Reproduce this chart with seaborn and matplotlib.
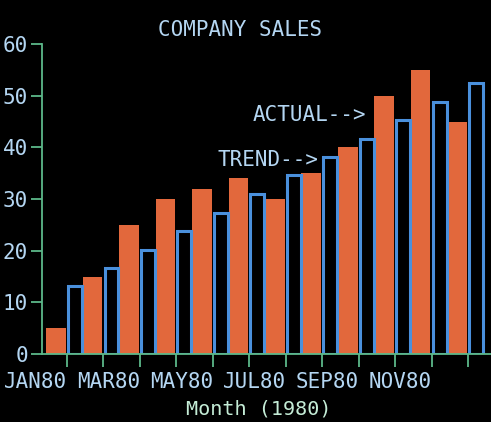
import pandas as pd
import matplotlib
matplotlib.use('Agg')
import matplotlib.pyplot as plt
import seaborn as sns

# chart values
months = ['JAN', 'FEB', 'MAR', 'APR', 'MAY', 'JUN', 'JUL', 'AUG', 'SEP', 'OCT', 'NOV', 'DEC']
tick_labels = ['JAN80', '', 'MAR80', '', 'MAY80', '', 'JUL80', '', 'SEP80', '', 'NOV80', '']
actual = [5, 15, 25, 30, 32, 34, 30, 35, 40, 50, 55, 45]
trend = [13.2, 16.7, 20.1, 23.8, 27.3, 31.0, 34.6, 38.1, 41.6, 45.2, 48.8, 52.5]
y_ticks = [0, 10, 20, 30, 40, 50, 60]

df = pd.DataFrame({
    'month': months * 2,
    'sales': actual + trend,
    'series': ['ACTUAL'] * 12 + ['TREND'] * 12,
})

sns.set_theme(style='dark')
plt.rcParams['font.family'] = ['DejaVu Sans Mono']

orange = '#e2683c'
blue = '#4a90dc'
green = '#5cb88a'
text_blue = '#b4d6f2'
fs = 15

fig = plt.figure(figsize=(4.91, 4.22), dpi=100, facecolor='black')
ax = fig.add_axes([42 / 491, 68 / 422, 449 / 491, 310 / 422])
ax.set_facecolor('black')

sns.barplot(data=df, x='month', y='sales', hue='series', order=months,
            palette={'ACTUAL': orange, 'TREND': blue}, width=1.2, gap=0.1,
            saturation=1, legend=False, ax=ax)

# trend bars are drawn as hollow outlines, a bit narrower
for p in ax.patches[12:24]:
    p.set_facecolor('none')
    p.set_edgecolor(blue)
    p.set_linewidth(2.2)
    p.set_width(0.38)
for p in ax.patches[:12]:
    p.set_edgecolor('none')

ax.set_xlim(-0.686, 11.63)
ax.set_ylim(0, 60)
ax.set_yticks(y_ticks)
ax.set_yticklabels([str(v) for v in y_ticks])
ax.set_xticks(range(12))
ax.set_xticklabels(tick_labels, ha='right')
ax.set_xlabel('')
ax.set_ylabel('')
ax.grid(False)

for side in ['top', 'right']:
    ax.spines[side].set_visible(False)
for side in ['left', 'bottom']:
    ax.spines[side].set_visible(True)
    ax.spines[side].set_color(green)
    ax.spines[side].set_linewidth(1.3)

ax.tick_params(axis='both', bottom=True, left=True, colors=green, length=8,
               width=1.3, direction='out', labelsize=fs)
ax.tick_params(axis='x', labelcolor=text_blue, pad=4, length=9)
ax.tick_params(axis='y', labelcolor=text_blue, pad=2)

ax.text(5.10, 46.2, 'ACTUAL-->', color=text_blue, fontsize=fs,
        ha='left', va='center')
ax.text(4.14, 37.5, 'TREND-->', color=text_blue, fontsize=fs,
        ha='left', va='center')

fig.text(240 / 491, 1 - 30 / 422, 'COMPANY SALES', color=text_blue,
         fontsize=fs, ha='center', va='center')
fig.text(259 / 491, 1 - 409 / 422, 'Month (1980)', color='#c4ecd6',
         fontsize=14.5, ha='center', va='center')

fig.savefig('out.png', dpi=100, facecolor='black')
